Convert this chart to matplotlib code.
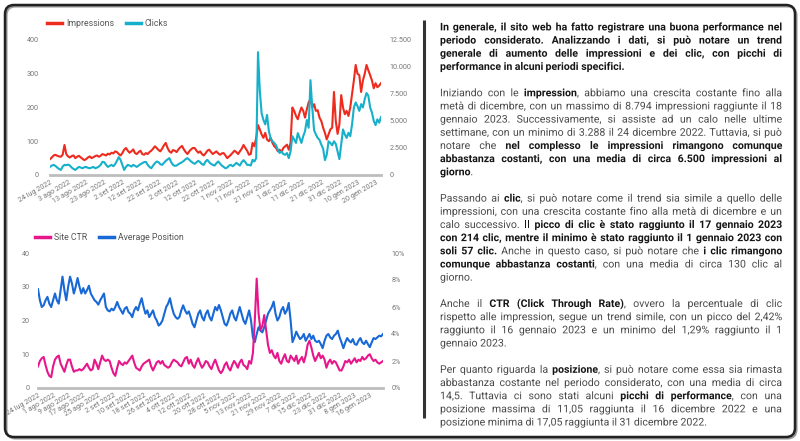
import matplotlib
matplotlib.use('Agg')
import matplotlib.pyplot as plt
import matplotlib.patheffects as pe
from matplotlib.patches import FancyBboxPatch
from matplotlib.lines import Line2D
from matplotlib.ticker import FixedLocator
import pandas as pd

plt.rcParams['font.family'] = ['Roboto', 'DejaVu Sans']

# ---------------- data ----------------
dates = pd.date_range('2022-07-24', periods=184, freq='D')

impressions = [
    1470, 1625, 1810, 1875, 1780, 1720, 1690, 1875, 2780, 1940,
    1720, 1625, 1750, 1810, 1560, 1690, 1780, 1625, 1500, 1375,
    1470, 1625, 1720, 1560, 1655, 1750, 1810, 1690, 1780, 1940,
    1875, 1810, 1970, 1905, 2060, 2000, 2190, 2125, 1940, 1810,
    2030, 2345, 2500, 2250, 2060, 2190, 2375, 2030, 1940, 2125,
    2250, 1940, 1875, 2030, 1940, 2125, 2250, 2440, 2655, 2500,
    2310, 2190, 2440, 2750, 2970, 2500, 2190, 2060, 2310, 2250,
    2125, 2375, 2560, 2690, 2375, 2125, 1940, 2190, 2375, 2500,
    2500, 2250, 2060, 2190, 1940, 1810, 2000, 2250, 2345, 2125,
    1940, 2060, 2190, 2000, 1875, 2000, 2030, 1810, 1560, 1720,
    1875, 2060, 2250, 2125, 1940, 2190, 2440, 2780, 2500, 2250,
    1875, 1940, 2970, 2660, 3440, 4625, 4220, 3750, 3440, 3900,
    3280, 3125, 3440, 2970, 2660, 2500, 2190, 2340, 2125, 2500,
    2660, 2810, 2340, 2970, 6250, 5940, 5470, 5160, 5780, 6250,
    5940, 5310, 6090, 6720, 7030, 6250, 6560, 5940, 6000, 5310,
    5000, 4375, 3900, 3290, 3750, 4220, 4375, 7690, 5000, 3810,
    4690, 7400, 6250, 5625, 5940, 5470, 6250, 7500, 8750, 10190,
    9375, 9250, 7690, 8750, 9375, 10190, 9690, 9250, 8750, 8030,
    8500, 8125, 8280, 8500]

clicks = [
    24, 28, 30, 27, 22, 18, 15, 25, 30, 29,
    31, 28, 22, 18, 15, 20, 24, 22, 20, 23,
    24, 21, 20, 22, 24, 20, 22, 25, 30, 39,
    38, 30, 24, 27, 30, 26, 32, 42, 53, 45,
    30, 15, 24, 30, 28, 25, 30, 27, 24, 28,
    32, 35, 38, 39, 30, 24, 20, 28, 35, 40,
    38, 32, 30, 36, 42, 46, 50, 38, 30, 27,
    28, 32, 35, 38, 42, 47, 50, 45, 40, 36,
    33, 38, 42, 38, 32, 30, 40, 45, 38, 33,
    30, 28, 35, 40, 34, 28, 24, 20, 22, 28,
    30, 26, 30, 36, 32, 28, 38, 44, 38, 30,
    30, 28, 45, 40, 50, 364, 250, 183, 163, 150,
    178, 130, 108, 100, 95, 88, 74, 65, 70, 62,
    60, 65, 50, 70, 115, 105, 95, 124, 110, 95,
    115, 130, 163, 140, 281, 200, 133, 120, 110, 104,
    90, 78, 44, 60, 100, 95, 88, 100, 92, 70,
    47, 90, 135, 120, 110, 125, 115, 150, 200, 215,
    204, 190, 210, 200, 225, 243, 235, 200, 185, 160,
    148, 165, 155, 172]

avg_position = [
    29.3, 26, 24, 24.5, 26, 27, 25, 24, 26, 28,
    26, 25, 29, 33, 29, 26, 30, 33, 31, 28,
    30, 32.6, 30, 28, 29.6, 28, 29, 30.3, 28, 27,
    26, 25.5, 24.7, 26, 27, 28, 24, 23, 22.7, 23.5,
    23, 24, 25.5, 24, 23, 22, 23.5, 24, 22.5, 22,
    21, 23, 24, 23, 25, 26.6, 24, 22, 23, 21,
    22, 23, 21, 20, 18.5, 19, 20, 22, 24, 25,
    26.6, 24, 22, 21, 20.5, 21, 23, 24.5, 23, 22,
    22.7, 21, 19, 18, 20, 22, 23, 21, 20, 22,
    23, 21, 20, 22, 24, 23, 24.6, 23, 21, 19,
    18.5, 20, 22, 23, 21, 20, 22, 24, 22, 20,
    19, 21, 23, 20, 15, 13.6, 16, 18, 17, 16.5,
    18, 20, 22, 23, 24, 25.6, 22, 20, 21, 23,
    24, 22, 23, 25.2, 20, 13.6, 15, 16.7, 15.5, 14.5,
    15, 16, 14, 15, 16, 14.5, 15.5, 14, 13.6, 14,
    13, 11.8, 14, 15.5, 16, 15, 14.5, 15.5, 16, 17,
    15, 13.5, 11.8, 13.5, 14.8, 14, 13.5, 14.5, 13, 12.8,
    14, 14.8, 13.5, 13, 14, 13, 12.1, 13.5, 14.8, 14.5,
    15, 15.5, 15.3, 16]

site_ctr = [
    1.6, 2.0, 2.2, 2.3, 1.7, 1.2, 0.9, 0.8, 1.6, 2.1,
    2.3, 2.4, 1.8, 1.5, 1.2, 1.7, 2.1, 2.1, 1.6, 1.2,
    1.3, 1.3, 1.4, 1.3, 1.4, 1.6, 1.8, 1.5, 1.3, 1.4,
    2.1, 1.8, 1.4, 1.9, 2.4, 2.1, 2.0, 2.1, 2.0, 1.5,
    1.1, 0.9, 1.5, 2.0, 1.8, 1.7, 1.9, 1.8, 2.0, 2.2,
    2.4, 1.9, 1.5, 1.4, 1.3, 1.6, 1.8, 1.9, 2.0, 2.1,
    1.6, 1.3, 1.6, 1.9, 2.0, 1.8, 2.0, 1.7, 1.6, 1.5,
    1.6, 1.9, 2.1, 2.0, 1.9, 1.7, 1.6, 1.9, 2.2, 2.3,
    1.8, 2.1, 1.7, 1.5, 1.9, 2.2, 1.8, 1.5, 1.7, 2.0,
    1.9, 1.6, 1.4, 1.8, 2.1, 1.7, 1.3, 1.1, 1.3, 1.7,
    1.9, 1.5, 1.3, 1.7, 2.0, 1.8, 1.5, 1.9, 2.1, 1.7,
    1.6, 1.4, 2.0, 1.8, 2.6, 5.0, 8.1, 5.5, 4.3, 4.6,
    5.4, 4.3, 3.2, 2.6, 2.8, 2.4, 2.2, 2.6, 2.0, 1.8,
    2.2, 2.5, 2.0, 1.9, 2.4, 2.2, 2.0, 2.4, 1.8, 2.1,
    2.3, 1.9, 2.4, 3.2, 3.5, 3.0, 2.4, 2.0, 2.3, 2.6,
    2.2, 2.4, 2.1, 1.5, 1.9, 2.1, 1.8, 2.0, 1.9, 1.6,
    1.3, 1.3, 1.6, 2.0, 1.9, 2.1, 1.8, 2.0, 2.2, 1.9,
    2.1, 2.0, 2.3, 2.1, 2.2, 2.4, 2.5, 2.2, 2.0, 2.1,
    1.9, 1.8, 1.9, 2.0]

top_tick_dates = ['2022-07-24', '2022-08-03', '2022-08-13', '2022-08-23', '2022-09-02',
                  '2022-09-12', '2022-09-22', '2022-10-02', '2022-10-12', '2022-10-22',
                  '2022-11-01', '2022-11-11', '2022-11-21', '2022-12-01', '2022-12-11',
                  '2022-12-21', '2022-12-31', '2023-01-10', '2023-01-20']
top_tick_labels = ['24 lug 2022', '3 ago 2022', '13 ago 2022', '23 ago 2022', '2 set 2022',
                   '12 set 2022', '22 set 2022', '2 ott 2022', '12 ott 2022', '22 ott 2022',
                   '1 nov 2022', '11 nov 2022', '21 nov 2022', '1 dic 2022', '11 dic 2022',
                   '21 dic 2022', '31 dic 2022', '10 gen 2023', '20 gen 2023']
bot_tick_dates = ['2022-07-24', '2022-08-01', '2022-08-09', '2022-08-17', '2022-08-25',
                  '2022-09-02', '2022-09-10', '2022-09-18', '2022-09-26', '2022-10-04',
                  '2022-10-12', '2022-10-20', '2022-10-28', '2022-11-05', '2022-11-13',
                  '2022-11-21', '2022-11-29', '2022-12-07', '2022-12-15', '2022-12-23',
                  '2022-12-31', '2023-01-08', '2023-01-16']
bot_tick_labels = ['24 lug 2022', '1 ago 2022', '9 ago 2022', '17 ago 2022', '25 ago 2022',
                   '2 set 2022', '10 set 2022', '18 set 2022', '26 set 2022', '4 ott 2022',
                   '12 ott 2022', '20 ott 2022', '28 ott 2022', '5 nov 2022', '13 nov 2022',
                   '21 nov 2022', '29 nov 2022', '7 dic 2022', '15 dic 2022', '23 dic 2022',
                   '31 dic 2022', '8 gen 2023', '16 gen 2023']

imp_ticks = [0, 2500, 5000, 7500, 10000, 12500]
imp_labels = ['0', '2.500', '5.000', '7.500', '10.000', '12.500']
clk_ticks = [0, 100, 200, 300, 400]
pos_ticks = [0, 10, 20, 30, 40]
ctr_ticks = [0, 2, 4, 6, 8, 10]
ctr_labels = ['0%', '2%', '4%', '6%', '8%', '10%']

paragraphs = [
    ["**In generale, il sito web ha fatto registrare una buona performance nel",
     "periodo considerato. Analizzando i dati, si può notare un trend",
     "generale di aumento delle impressioni e dei clic, con picchi di",
     "performance in alcuni periodi specifici.**"],
    ["Iniziando con le **impression**, abbiamo una crescita costante fino alla",
     "metà di dicembre, con un massimo di 8.794 impressioni raggiunte il 18",
     "gennaio 2023. Successivamente, si assiste ad un calo nelle ultime",
     "settimane, con un minimo di 3.288 il 24 dicembre 2022. Tuttavia, si può",
     "notare che **nel complesso le impressioni rimangono comunque",
     "abbastanza costanti, con una media di circa 6.500 impressioni al",
     "giorno**."],
    ["Passando ai **clic**, si può notare come il trend sia simile a quello delle",
     "impressioni, con una crescita costante fino alla metà di dicembre e un",
     "calo successivo. **Il picco di clic è stato raggiunto il 17 gennaio 2023",
     "con 214 clic, mentre il minimo è stato raggiunto il 1 gennaio 2023 con",
     "soli 57 clic.** Anche in questo caso, si può notare che **i clic rimangono",
     "comunque abbastanza costanti**, con una media di circa 130 clic al",
     "giorno."],
    ["Anche il **CTR (Click Through Rate)**, ovvero la percentuale di clic",
     "rispetto alle impression, segue un trend simile, con un picco del 2,42%",
     "raggiunto il 16 gennaio 2023 e un minimo del 1,29% raggiunto il 1",
     "gennaio 2023."],
    ["Per quanto riguarda la **posizione**, si può notare come essa sia rimasta",
     "abbastanza costante nel periodo considerato, con una media di circa",
     "14,5. Tuttavia ci sono stati alcuni **picchi di performance**, con una",
     "posizione massima di 11,05 raggiunta il 16 dicembre 2022 e una",
     "posizione minima di 17,05 raggiunta il 31 dicembre 2022."],
]

# ---------------- style ----------------
W, H = 800, 441
RED, CYAN, PINK, BLUE = '#ee2b1f', '#17b0cb', '#e8168b', '#1868d6'
TICK_C = '#777777'
AXIS_C = '#bdbdbd'

fig = plt.figure(figsize=(W / 100, H / 100), dpi=100)
fig.patch.set_facecolor('white')

axbg = fig.add_axes([0, 0, 1, 1], zorder=-1)
axbg.set_xlim(0, W)
axbg.set_ylim(H, 0)
axbg.axis('off')

shadow = FancyBboxPatch((6.5, 6.5), 790, 432, boxstyle='round,pad=0,rounding_size=9',
                        fill=False, ec='#9a9a9a', lw=1.5)
axbg.add_patch(shadow)
box = FancyBboxPatch((5, 5), 790, 432, boxstyle='round,pad=0,rounding_size=9',
                     fill=False, ec='#222222', lw=1.8)
axbg.add_patch(box)
axbg.plot([424, 424], [20, 418], color='#333333', lw=2.2, solid_capstyle='butt')


def rect(x0, y0, x1, y1):
    return [x0 / W, 1 - y1 / H, (x1 - x0) / W, (y1 - y0) / H]


def style_axes(ax, base=True):
    ax.set_facecolor('none')
    for s in ax.spines.values():
        s.set_visible(False)
    if base:
        ax.spines['bottom'].set_visible(True)
        ax.spines['bottom'].set_color(AXIS_C)
        ax.spines['bottom'].set_linewidth(2)
    ax.tick_params(length=0, labelsize=5.2, colors=TICK_C)


def set_dates(ax, tdates, tlabels):
    ax.set_xlim(dates[0], dates[-1])
    ax.set_xticks(pd.to_datetime(tdates))
    ax.set_xticklabels(tlabels, rotation=30, ha='right', rotation_mode='anchor',
                       fontsize=5.2, color=TICK_C)
    ax.tick_params(axis='x', pad=3)


# ---------------- top chart ----------------
ax1 = fig.add_axes(rect(50, 40, 381, 175))
style_axes(ax1)
l_imp, = ax1.plot(dates, impressions, color=RED, lw=1.5)
ax1.set_ylim(0, 12500)
set_dates(ax1, top_tick_dates, top_tick_labels)

ax1b = ax1.twinx()
style_axes(ax1b, base=False)
l_clk, = ax1b.plot(dates, clicks, color=CYAN, lw=1.5)
ax1b.set_ylim(0, 400)
ax1b.set_xlim(dates[0], dates[-1])

ax1.yaxis.tick_right()
ax1.yaxis.set_major_locator(FixedLocator(imp_ticks))
ax1.set_yticklabels(imp_labels)
ax1.tick_params(axis='y', pad=6, length=0)
ax1b.yaxis.tick_left()
ax1b.yaxis.set_major_locator(FixedLocator(clk_ticks))
ax1b.tick_params(axis='y', pad=8, length=0)

ax1b.legend([Line2D([], [], color=RED, lw=2.5), Line2D([], [], color=CYAN, lw=2.5)],
            ['Impressions', 'Clicks'], loc='center left',
            bbox_to_anchor=(47 / W, 1 - 24 / H), bbox_transform=fig.transFigure,
            ncol=2, frameon=False, fontsize=6.3, labelcolor='#555555',
            handlelength=1.7, handletextpad=0.45, columnspacing=1.4,
            borderpad=0, borderaxespad=0)

# ---------------- bottom chart ----------------
ax2 = fig.add_axes(rect(38, 253, 383, 388))
style_axes(ax2)
l_pos, = ax2.plot(dates, avg_position, color=BLUE, lw=1.5)
ax2.set_ylim(0, 40)
set_dates(ax2, bot_tick_dates, bot_tick_labels)

ax2b = ax2.twinx()
style_axes(ax2b, base=False)
l_ctr, = ax2b.plot(dates, site_ctr, color=PINK, lw=1.5)
ax2b.set_ylim(0, 10)
ax2b.set_xlim(dates[0], dates[-1])

ax2.yaxis.tick_left()
ax2.yaxis.set_major_locator(FixedLocator(pos_ticks))
ax2.tick_params(axis='y', pad=6, length=0)
ax2b.yaxis.tick_right()
ax2b.yaxis.set_major_locator(FixedLocator(ctr_ticks))
ax2b.set_yticklabels(ctr_labels)
ax2b.tick_params(axis='y', pad=6, length=0)

ax2b.legend([Line2D([], [], color=PINK, lw=2.5), Line2D([], [], color=BLUE, lw=2.5)],
            ['Site CTR', 'Average Position'], loc='center left',
            bbox_to_anchor=(35 / W, 1 - 238 / H), bbox_transform=fig.transFigure,
            ncol=2, frameon=False, fontsize=6.3, labelcolor='#555555',
            handlelength=1.7, handletextpad=0.45, columnspacing=1.4,
            borderpad=0, borderaxespad=0)

# ---------------- justified rich text ----------------
renderer = fig.canvas.get_renderer()
X0, X1 = 440, 782
LINE_H = 13.17
Y_FIRST = 27
BOLD_C, REG_C = '#151515', '#4a4a4a'
_cache = {}


def measure(s, bold, fs):
    key = (s, bold, fs)
    if key not in _cache:
        t = axbg.text(0, 0, s, fontsize=fs, fontweight='bold' if bold else 'normal')
        _cache[key] = t.get_window_extent(renderer).width
        t.remove()
    return _cache[key]


def parse(lines):
    out = []
    bold = False
    for line in lines:
        words = []
        for raw in line.split(' '):
            runs = []
            parts = raw.split('**')
            for i, p in enumerate(parts):
                if i > 0:
                    bold = not bold
                if p:
                    runs.append((p, bold))
            if runs:
                words.append(runs)
        out.append(words)
    return out


parsed = [parse(p) for p in paragraphs]


def word_w(word, fs):
    return sum(measure(t, b, fs) for t, b in word)


def space_w(fs):
    return measure('x x', False, fs) - measure('xx', False, fs)


fs = 7.6
while True:
    sw = space_w(fs)
    mx = 0
    for para in parsed:
        for words in para:
            w = sum(word_w(wd, fs) for wd in words) + sw * (len(words) - 1)
            mx = max(mx, w)
    if mx <= (X1 - X0) * 0.995 or fs < 5:
        break
    fs -= 0.05

sw = space_w(fs)
effects = [pe.Normal()]
li = 0
for para in parsed:
    for k, words in enumerate(para):
        y = Y_FIRST + LINE_H * li + 3.4
        widths = [word_w(wd, fs) for wd in words]
        last = (k == len(para) - 1)
        if last or len(words) < 2:
            gap = sw
        else:
            gap = (X1 - X0 - sum(widths)) / (len(words) - 1)
        x = X0
        for wd, wdw in zip(words, widths):
            xx = x
            for t, b in wd:
                axbg.text(xx, y, t, fontsize=fs, fontweight='bold' if b else 'normal',
                          color=BOLD_C if b else REG_C, va='baseline', ha='left',
                          path_effects=effects)
                xx += measure(t, b, fs)
            x += wdw + gap
        li += 1
    li += 1

fig.savefig('out.png', dpi=100)
